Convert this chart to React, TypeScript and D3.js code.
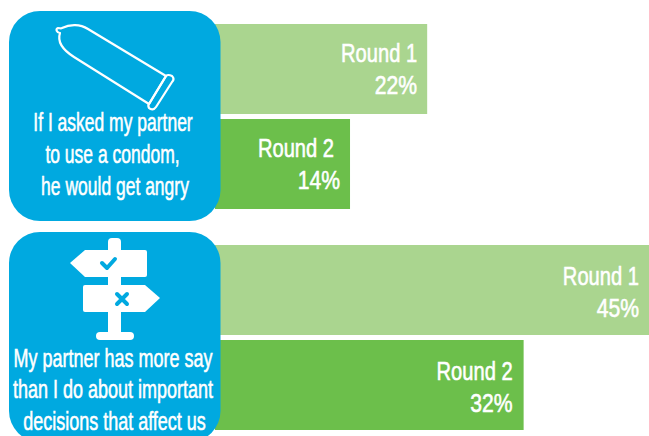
import React from "react";
import * as d3 from "d3";

const W = 649, H = 436;
const questions = ["condom", "say"];
const rounds = ["Round 1", "Round 2"];
const condomValues = [22, 14];
const sayValues = [45, 32];
const condomLines = ["If I asked my partner", "to use a condom,", "he would get angry"];
const sayLines = ["My partner has more say", "than I do about important", "decisions that affect us"];
const roundColors = ["#aad58f", "#6cbf4b"];
const FONT = "'Liberation Sans',sans-serif";

const x = d3.scaleLinear().domain([0, 45]).range([215, 649]);
const cardTop = d3.scaleOrdinal<string, number>().domain(questions).range([11, 232]);
const barTop = d3.scaleOrdinal<string, number>().domain(rounds).range([13, 108]);

function Narrow({ x: tx, y, sx, size, anchor, children }: { x: number; y: number; sx: number; size: number; anchor: string; children: string }) {
  return (
    <text transform={`translate(${tx},${y}) scale(${sx},1)`} fontSize={size} textAnchor={anchor} fontFamily={FONT} fill="#fff" stroke="#fff" strokeWidth={0.55}>
      {children}
    </text>
  );
}

type P = { id: string; values: number[]; lines: string[]; lineY: number[]; lineX: number[]; lineSx: number; icon: React.ReactNode; labelR: number[][]; labelY: number[][] };

function Group({ id, values, lines, lineY, lineX, lineSx, icon, labelR, labelY }: P) {
  const t = cardTop(id);
  return (
    <g>
      {values.map((v, i) => {
        const y = t + barTop(rounds[i]);
        return (
          <g key={i}>
            <rect x={x(0)} y={y} width={x(v) - x(0)} height={90} fill={roundColors[i]} />
            <Narrow x={x(v) - labelR[i][0]} y={y + labelY[i][0]} sx={0.79} size={25.5} anchor="end">{rounds[i]}</Narrow>
            <Narrow x={x(v) - labelR[i][1]} y={y + labelY[i][1]} sx={0.83} size={25.5} anchor="end">{`${v}%`}</Narrow>
          </g>
        );
      })}
      <rect x={9} y={t} width={211.5} height={210} rx={31} fill="#00a9e0" />
      {icon}
      {lines.map((l, i) => (
        <Narrow key={i} x={lineX[i]} y={lineY[i]} sx={lineSx} size={25} anchor="middle">{l}</Narrow>
      ))}
    </g>
  );
}

const condomIcon = (
  <g fill="none" stroke="#fff" strokeWidth={2.2} strokeLinejoin="round" strokeLinecap="round">
    <path d="M60 33 C57 33 55 29 58 28 C60 28 61 29 62 28 C70 24 80 24 88 29 L166 76 L149 104 L74 57 C63 50 57 42 60 33 Z" />
    <path d="M166 76 C168 74 170 75 172 76 C174 78 174 80 172 82 L156 107 C154 110 151 110 149 108 C148 106 148 105 149 104 Z" />
  </g>
);

const signIcon = (
  <g fill="#fff">
    <rect x={108} y={238} width={13} height={98} rx={4} />
    <path d="M70 263 L85 250 L145 250 Q147 250 147 252 L147 275 Q147 277 145 277 L85 277 Z" />
    <path d="M85 285 L145 285 L160 298 L145 312 L85 312 Q83 312 83 310 L83 287 Q83 285 85 285 Z" />
    <rect x={96} y={332} width={38} height={8} rx={4} />
    <path d="M102 263 L107 268 L115 259" fill="none" stroke="#00a9e0" strokeWidth={4} strokeLinecap="round" strokeLinejoin="round" />
    <path d="M117 294 L127 304 M127 294 L117 304" fill="none" stroke="#00a9e0" strokeWidth={4} strokeLinecap="round" />
  </g>
);

export default function App() {
  return (
    <svg width={W} height={H} viewBox={`0 0 ${W} ${H}`} style={{ position: "absolute", left: 0, top: 0, background: "#fff" }}>
      <Group id="condom" values={condomValues} lines={condomLines} lineY={[131, 163, 195]} lineX={[113, 112.5, 115]} lineSx={0.7} icon={condomIcon}
        labelR={[[10, 10], [16, 10]]} labelY={[[38, 70], [38, 70]]} />
      <Group id="say" values={sayValues} lines={sayLines} lineY={[367, 398, 430]} lineX={[113, 113, 114.5]} lineSx={0.72} icon={signIcon}
        labelR={[[10, 10], [11, 11]]} labelY={[[40, 72], [40, 72]]} />
    </svg>
  );
}
